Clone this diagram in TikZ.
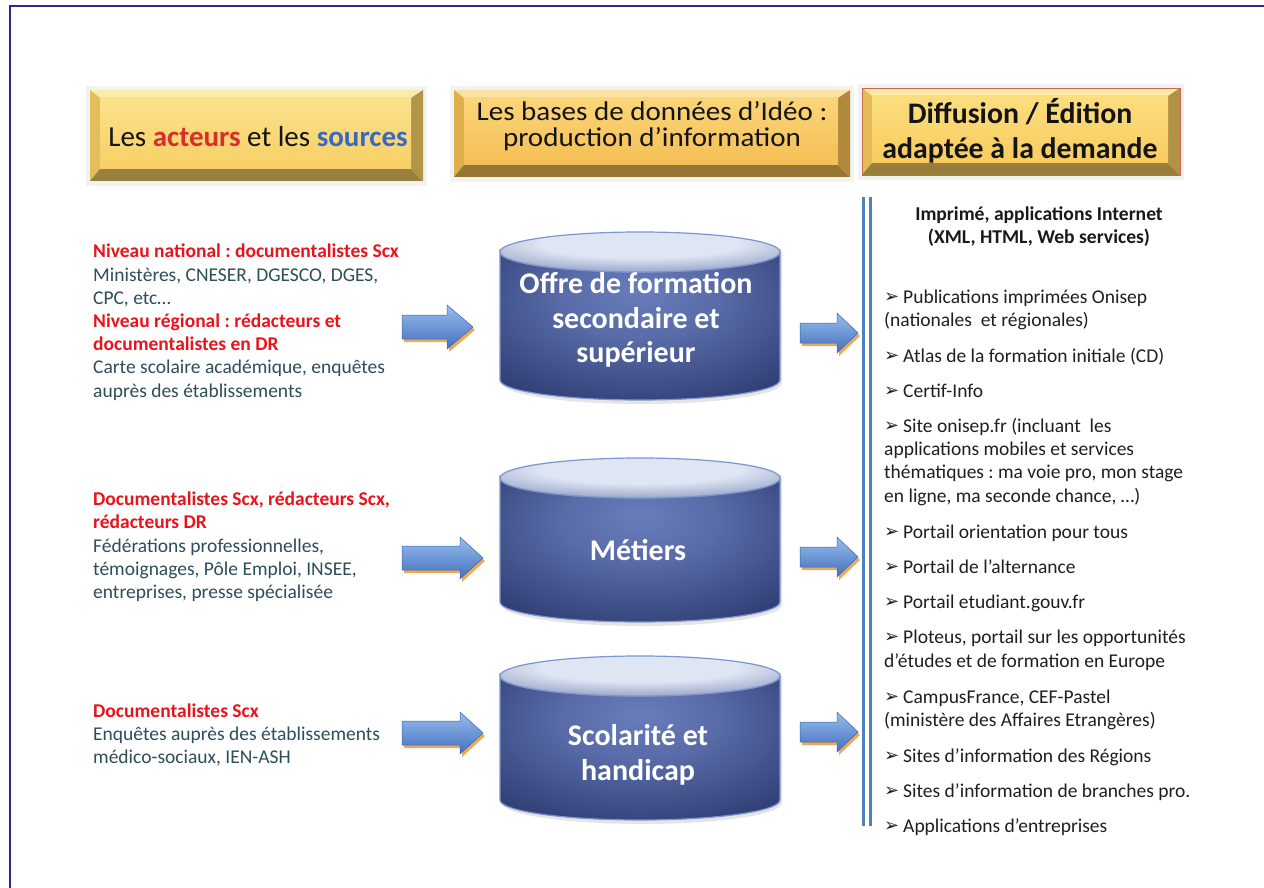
\documentclass[tikz,border=0pt]{standalone}
\usepackage{fontspec}
\setmainfont{Carlito}
\newfontfamily\symfont{DejaVu Sans}
\usetikzlibrary{calc}
\frenchspacing

\definecolor{framec}{RGB}{50,40,140}
\definecolor{myred}{RGB}{232,20,28}
\definecolor{slate}{RGB}{45,78,90}
\definecolor{acred}{RGB}{215,45,45}
\definecolor{srcblue}{RGB}{55,105,195}
\definecolor{arrowline}{RGB}{79,129,189}
\definecolor{arrtop}{RGB}{150,190,238}
\definecolor{arrbot}{RGB}{68,112,190}
\definecolor{arrshadow}{RGB}{238,168,90}
\definecolor{cylline}{RGB}{125,150,205}
\definecolor{cyllight}{RGB}{105,125,188}
\definecolor{cyldark}{RGB}{40,55,108}
\definecolor{toplight}{RGB}{222,229,243}
\definecolor{topdark}{RGB}{118,133,180}
\definecolor{boxAt}{RGB}{252,226,140}
\definecolor{boxAb}{RGB}{247,207,100}
\definecolor{boxBt}{RGB}{251,213,122}
\definecolor{boxBb}{RGB}{244,190,84}
\definecolor{boxCt}{RGB}{252,222,126}
\definecolor{boxCb}{RGB}{247,204,94}
\definecolor{boxCline}{RGB}{200,105,85}

\pgfdeclareradialshading{cylside}{\pgfpoint{0bp}{12bp}}{%
  color(0bp)=(cyllight); color(14bp)=(cyllight!75!cyldark); color(40bp)=(cyldark); color(80bp)=(cyldark)}
\pgfdeclareradialshading{cyltop}{\pgfpoint{0bp}{14bp}}{%
  color(0bp)=(toplight); color(18bp)=(toplight); color(42bp)=(topdark); color(80bp)=(topdark)}

\tikzset{
  lt/.style={anchor=base west, inner sep=0pt, font=\fontsize{19.5}{23}\selectfont, text=slate},
  lr/.style={anchor=base west, inner sep=0pt, font=\fontsize{19.5}{23}\selectfont\bfseries, text=myred},
  rt/.style={anchor=base west, inner sep=0pt, font=\fontsize{19.5}{23}\selectfont, text=black!88},
  rh/.style={anchor=base, inner sep=0pt, font=\fontsize{19.6}{23}\selectfont\bfseries, text=black!90},
  cyltext/.style={anchor=base, inner sep=0pt, font=\fontsize{30}{34}\selectfont\bfseries, text=white},
  headtext/.style={anchor=base, inner sep=0pt, font=\fontsize{29}{32}\selectfont, text=black!92},
  headtextb/.style={anchor=base, inner sep=0pt, font=\fontsize{27}{30}\selectfont, text=black!92},
  headbold/.style={anchor=base, inner sep=0pt, font=\fontsize{29.8}{34}\selectfont\bfseries, text=black!92},
  vline/.style={draw=arrowline, line width=3pt},
}

\newcommand\bul{\makebox[19pt][l]{\symfont\fontsize{18}{18}\selectfont\raisebox{0.5pt}{➢}}}

% bevel box: x1,y1,x2,y2,face-top colour name,face-bottom colour name
\newcommand\bevelbox[6]{%
  \fill[black!5] ({#1-4},{-#2+4}) rectangle ({#3+4},{-#4-5});
  \fill[#5!70!white] (#1,-#2) -- (#3,-#2) -- ({#3-12},{-#2-8}) -- ({#1+10},{-#2-8}) -- cycle;
  \fill[#6!92!black] (#1,-#2) -- ({#1+10},{-#2-8}) -- ({#1+10},{-#4+12}) -- (#1,-#4) -- cycle;
  \fill[#6!62!black] (#1,-#4) -- ({#1+10},{-#4+12}) -- ({#3-12},{-#4+12}) -- (#3,-#4) -- cycle;
  \fill[#6!72!black] (#3,-#2) -- ({#3-12},{-#2-8}) -- ({#3-12},{-#4+12}) -- (#3,-#4) -- cycle;
  \shade[top color=#5, bottom color=#6] ({#1+10},{-#2-8}) rectangle ({#3-12},{-#4+12});
}

% cylinder: top-centre y, bottom-centre y
\newcommand\dbcyl[2]{%
  \fill[black!10] (502,{-#1}) -- (502,{-#2-3}) arc[start angle=180,end angle=360,x radius=140pt,y radius=21pt] -- (782,{-#1}) -- cycle;
  \shade[shading=cylside, draw=cylline, line width=1.2pt]
    (500,{-#1}) -- (500,{-#2}) arc[start angle=180,end angle=360,x radius=140pt,y radius=20pt]
    -- (780,{-#1}) arc[start angle=0,end angle=-180,x radius=140pt,y radius=20pt] -- cycle;
  \shade[shading=cyltop, draw=cylline, line width=1.2pt] (640,{-#1}) ellipse[x radius=140pt, y radius=20pt];
}

% block arrow: x tail, x head start, x tip, y centre, shaft half, head half
\newcommand\blockarrow[6]{%
  \fill[arrshadow] ({#1+2},{-#4+#5-3}) -- ({#2+2},{-#4+#5-3}) -- ({#2+2},{-#4+#6-3}) -- ({#3+2},{-#4-3})
     -- ({#2+2},{-#4-#6-3}) -- ({#2+2},{-#4-#5-3}) -- ({#1+2},{-#4-#5-3}) -- cycle;
  \shade[top color=arrtop, bottom color=arrbot, draw=arrbot!90!black, line width=0.5pt]
     (#1,{-#4+#5}) -- (#2,{-#4+#5}) -- (#2,{-#4+#6}) -- (#3,-#4)
     -- (#2,{-#4-#6}) -- (#2,{-#4-#5}) -- (#1,{-#4-#5}) -- cycle;
}

\begin{document}
\begin{tikzpicture}[x=1pt,y=1pt]
\useasboundingbox (0,0) rectangle (1264,-888);
\fill[white] (0,0) rectangle (1264,-888);
\draw[framec, line width=2pt] (10,-888) -- (10,-6) -- (1264,-6);

% ---------- header boxes ----------
\bevelbox{90}{90}{423}{181}{boxAt}{boxAb}
\node[headtext, name=h1] at (258,-147) {Les {\bfseries\color{acred}acteurs} et les {\bfseries\color{srcblue}sources}};

\bevelbox{454}{90}{850}{177}{boxBt}{boxBb}
\node[headtextb, name=h2a] at (652,-121) {\scalebox{1.075}[1]{Les bases de données d’Idéo :}};
\node[headtextb, name=h2b] at (652,-147) {\scalebox{1.075}[1]{production d’information}};

\bevelbox{862}{88}{1180}{175}{boxCt}{boxCb}
\draw[boxCline, line width=0.8pt] (862,-88) rectangle (1180,-175);
\node[headbold, name=h3a] at (1020,-124) {Diffusion / Édition};
\node[headbold, name=h3b] at (1020,-159) {adaptée à la demande};

% ---------- cylinders ----------
\dbcyl{252}{380}
\node[cyltext, name=c1a] at (636,-293) {Offre de formation};
\node[cyltext, name=c1b] at (636,-328) {secondaire et};
\node[cyltext, name=c1c] at (636,-362) {supérieur};

\dbcyl{478}{602}
\node[cyltext, name=c2] at (638,-560) {Métiers};

\dbcyl{676}{800}
\node[cyltext, name=c3a] at (638,-745) {Scolarité et};
\node[cyltext, name=c3b] at (638,-780) {handicap};

% ---------- arrows ----------
\blockarrow{402}{447}{473}{327}{12}{22}
\blockarrow{402}{460}{483}{558}{12}{21}
\blockarrow{402}{460}{483}{733}{12}{21}
\blockarrow{800}{837}{858}{333}{10}{20}
\blockarrow{800}{837}{858}{557}{10}{20}
\blockarrow{800}{837}{858}{732}{10}{20}

% ---------- double vertical line ----------
\coordinate (va1) at (863,-197);
\coordinate (vb1) at (863,-826);
\coordinate (va2) at (870,-197);
\coordinate (vb2) at (870,-826);
\draw[vline] (va1) -- (vb1);
\draw[vline] (va2) -- (vb2);

% ---------- left texts ----------
\node[lr, name=l1] at (93,-257) {Niveau national : documentalistes Scx};
\node[lt, name=l2] at (93,-281) {Ministères, CNESER, DGESCO, DGES,};
\node[lt, name=l3] at (93,-304) {CPC, etc…};
\node[lr, name=l4] at (93,-327) {Niveau régional : rédacteurs et};
\node[lr, name=l5] at (93,-350) {documentalistes en DR};
\node[lt, name=l6] at (93,-373) {Carte scolaire académique, enquêtes};
\node[lt, name=l7] at (93,-397) {auprès des établissements};

\node[lr, name=m1] at (93,-505) {Documentalistes Scx, rédacteurs Scx,};
\node[lr, name=m2] at (93,-528) {rédacteurs DR};
\node[lt, name=m3] at (93,-552) {Fédérations professionnelles,};
\node[lt, name=m4] at (93,-575) {témoignages, Pôle Emploi, INSEE,};
\node[lt, name=m5] at (93,-598) {entreprises, presse spécialisée};

\node[lr, name=n1] at (93,-717) {Documentalistes Scx};
\node[lt, name=n2] at (93,-740) {Enquêtes auprès des établissements};
\node[lt, name=n3] at (93,-763) {médico-sociaux, IEN-ASH};

% ---------- right texts ----------
\node[rh, name=rh1] at (1039,-220) {Imprimé, applications Internet};
\node[rh, name=rh2] at (1039,-243) {(XML, HTML, Web services)};

\node[rt, name=r1] at (884,-303) {\bul Publications imprimées Onisep};
\node[rt, name=r2] at (884,-326) {(nationales\ \ et régionales)};
\node[rt, name=r3] at (884,-362) {\bul Atlas de la formation initiale (CD)};
\node[rt, name=r4] at (884,-397) {\bul Certif-Info};
\node[rt, name=r5] at (884,-432) {\bul Site onisep.fr (incluant\ \ les};
\node[rt, name=r6] at (884,-455) {applications mobiles et services};
\node[rt, name=r7] at (884,-478) {thématiques : ma voie pro, mon stage};
\node[rt, name=r8] at (884,-502) {en ligne, ma seconde chance, …)};
\node[rt, name=r9] at (884,-538) {\bul Portail orientation pour tous};
\node[rt, name=r10] at (884,-573) {\bul Portail de l’alternance};
\node[rt, name=r11] at (884,-608) {\bul Portail etudiant.gouv.fr};
\node[rt, name=r12] at (884,-643) {\bul Ploteus, portail sur les opportunités};
\node[rt, name=r13] at (884,-667) {d'études et de formation en Europe};
\node[rt, name=r14] at (884,-703) {\bul CampusFrance, CEF-Pastel};
\node[rt, name=r15] at (884,-726) {(ministère des Affaires Etrangères)};
\node[rt, name=r16] at (884,-762) {\bul Sites d’information des Régions};
\node[rt, name=r17] at (884,-797) {\bul Sites d’information de branches pro.};
\node[rt, name=r18] at (884,-832) {\bul Applications d’entreprises};
\end{tikzpicture}
\end{document}
